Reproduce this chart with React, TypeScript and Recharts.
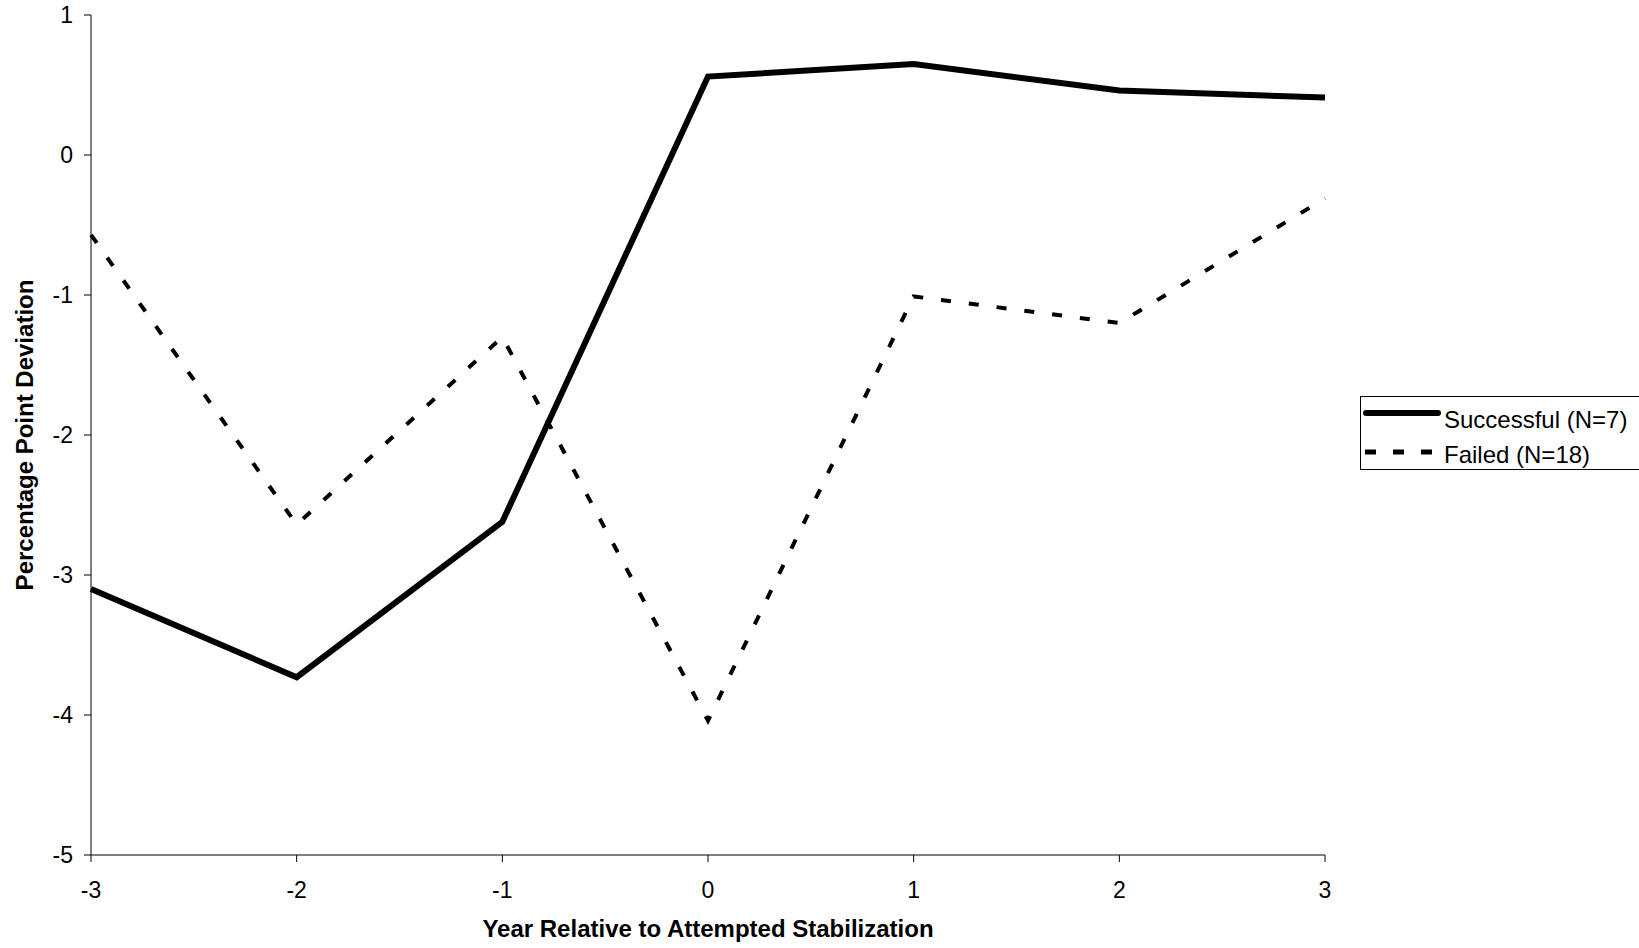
import React from 'react';
import { LineChart, Line, XAxis, YAxis } from 'recharts';

const years = [-3, -2, -1, 0, 1, 2, 3];
const successful = [-3.1, -3.73, -2.62, 0.56, 0.65, 0.46, 0.41];
const failed = [-0.57, -2.64, -1.3, -4.04, -1.01, -1.2, -0.31];
const yTicks = [-5, -4, -3, -2, -1, 0, 1];

const data = years.map((year, i) => ({
  year,
  successful: successful[i],
  failed: failed[i],
}));

const font = 'Arial, "Liberation Sans", sans-serif';

// legend drawn by hand, sits at the right edge like the original
const LegendBox = () => (
  <svg
    width={290}
    height={74}
    style={{ position: 'absolute', left: 1360, top: 396, fontFamily: font }}
  >
    <rect x={0.5} y={0.5} width={300} height={73} fill="#fff" stroke="#000" strokeWidth={1} />
    <line x1={6} y1={17} x2={78} y2={17} stroke="#000" strokeWidth={6} strokeLinecap="round" />
    <text x={84} y={32} fontSize={24} fill="#000">Successful (N=7)</text>
    <line x1={5} y1={56} x2={80} y2={56} stroke="#000" strokeWidth={5} strokeDasharray="11 17" />
    <text x={84} y={67} fontSize={24} fill="#000">Failed (N=18)</text>
  </svg>
);

export default function App() {
  return (
    <div style={{ position: 'absolute', left: 0, top: 0, width: 1639, height: 948, background: '#fff' }}>
      <LineChart
        width={1639}
        height={948}
        data={data}
        margin={{ top: 15, right: 314, left: 31, bottom: 33 }}
      >
        <XAxis
          dataKey="year"
          type="number"
          domain={[-3, 3]}
          ticks={years}
          stroke="#000"
          tickSize={7}
          tickMargin={20}
          tick={{ fill: '#000', fontSize: 23, fontFamily: font }}
          height={60}
          label={{
            value: 'Year Relative to Attempted Stabilization',
            position: 'insideBottom',
            offset: -22,
            style: { fill: '#000', fontSize: 24, fontWeight: 'bold', fontFamily: font },
          }}
        />
        <YAxis
          type="number"
          domain={[-5, 1]}
          ticks={yTicks}
          stroke="#000"
          tickSize={7}
          tickMargin={11}
          width={60}
          tick={{ fill: '#000', fontSize: 23, fontFamily: font }}
          label={{
            value: 'Percentage Point Deviation',
            angle: -90,
            position: 'insideLeft',
            offset: -7,
            style: { fill: '#000', fontSize: 24, fontWeight: 'bold', fontFamily: font, textAnchor: 'middle' },
          }}
        />
        <Line
          type="linear"
          dataKey="successful"
          stroke="#000"
          strokeWidth={6}
          dot={false}
          isAnimationActive={false}
        />
        <Line
          type="linear"
          dataKey="failed"
          stroke="#000"
          strokeWidth={4}
          strokeDasharray="10 18"
          dot={false}
          isAnimationActive={false}
        />
      </LineChart>
      <LegendBox />
    </div>
  );
}
